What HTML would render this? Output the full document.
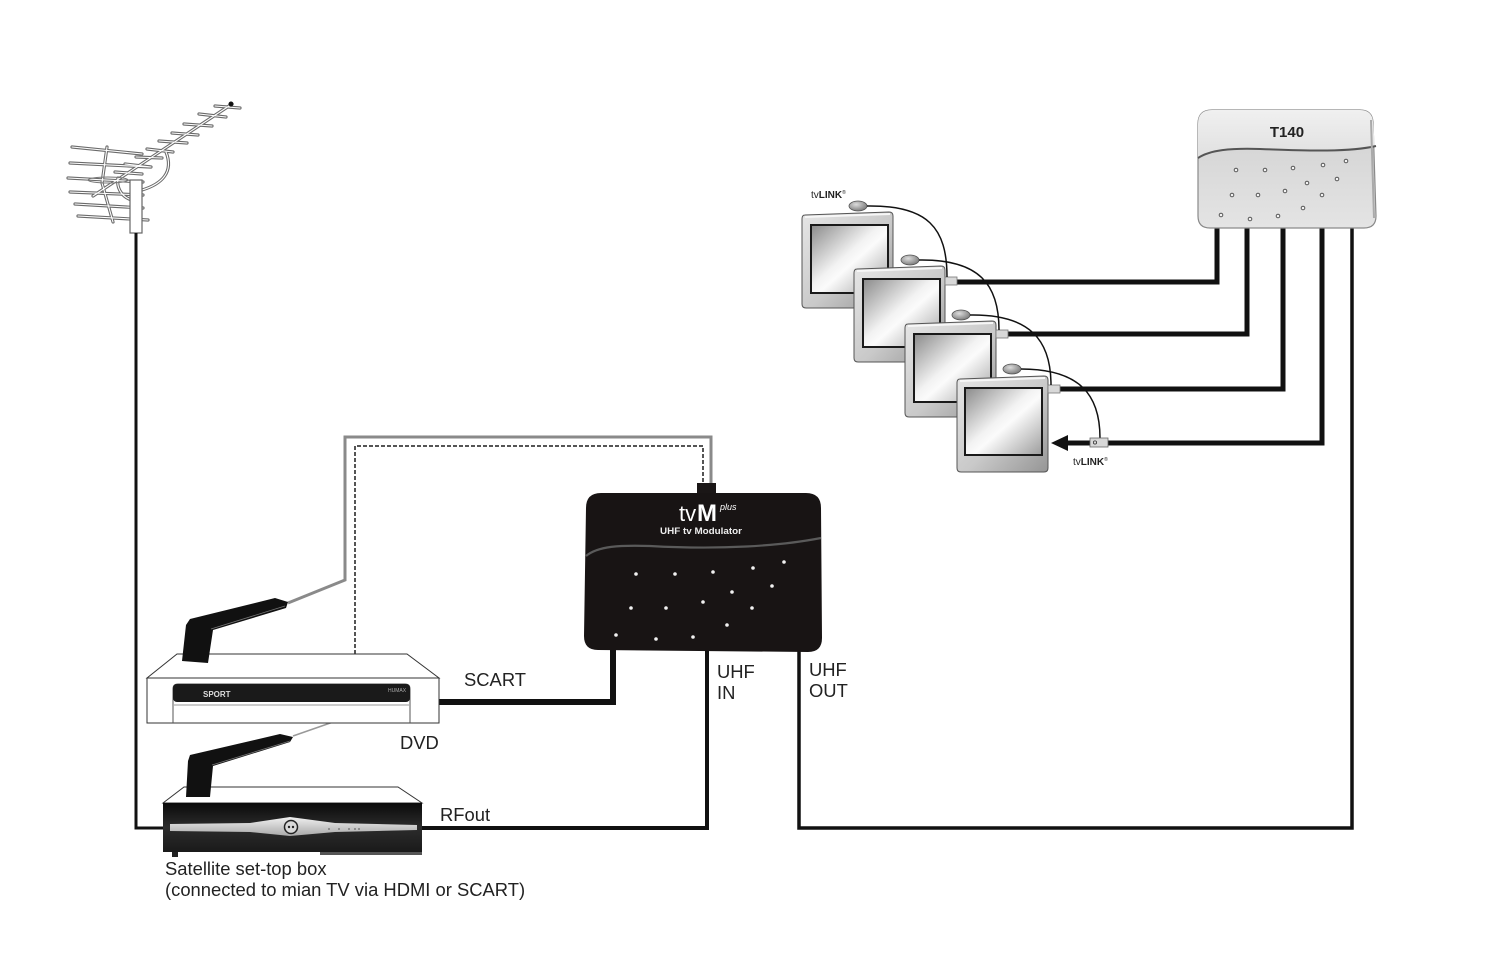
<!DOCTYPE html>
<html><head><meta charset="utf-8"><style>
html,body{margin:0;padding:0;background:#fff;}
svg{display:block;}
text{font-family:"Liberation Sans",Arial,sans-serif;}
</style></head><body>
<svg width="1500" height="953" viewBox="0 0 1500 953" xmlns="http://www.w3.org/2000/svg">
<defs>
 <linearGradient id="tvbody" x1="0" y1="0" x2="1" y2="1">
  <stop offset="0" stop-color="#e6e6e6"/><stop offset="0.55" stop-color="#c9c9c9"/><stop offset="1" stop-color="#959595"/>
 </linearGradient>
 <linearGradient id="screen" x1="0" y1="0" x2="1" y2="1">
  <stop offset="0" stop-color="#8a8a8a"/><stop offset="0.45" stop-color="#f2f2f2"/><stop offset="0.55" stop-color="#fbfbfb"/><stop offset="1" stop-color="#9c9c9c"/>
 </linearGradient>
 <radialGradient id="oval" cx="0.4" cy="0.35" r="0.7"><stop offset="0" stop-color="#dcdcdc"/><stop offset="1" stop-color="#767676"/></radialGradient>
 <linearGradient id="t140a" x1="0" y1="0" x2="0" y2="1"><stop offset="0" stop-color="#f0f0f0"/><stop offset="1" stop-color="#e0e0e0"/></linearGradient>
 <linearGradient id="t140b" x1="0" y1="0" x2="0" y2="1"><stop offset="0" stop-color="#d0d0d0"/><stop offset="1" stop-color="#e4e4e4"/></linearGradient>
 <linearGradient id="stb" x1="0" y1="0" x2="0" y2="1"><stop offset="0" stop-color="#0a0a0a"/><stop offset="0.5" stop-color="#2c2c2c"/><stop offset="1" stop-color="#1a1a1a"/></linearGradient>
 <linearGradient id="silver" x1="0" y1="0" x2="0" y2="1"><stop offset="0" stop-color="#f0f0f0"/><stop offset="1" stop-color="#a8a8a8"/></linearGradient>
 <g id="ant">
  <path d="M93,196 L232,104"/>
  <path d="M215,106 L240,108 M199,114 L226,117 M184,124 L212,126 M172,133 L198,135 M159,141 L187,143 M147,149 L173,152 M136,157 L162,158 M125,164 L151,167 M115,172 L142,174"/>
  <path d="M72,147 L142,154 M70,163 L150,167 M68,178 L143,182 M70,192 L143,195 M75,204 L143,208 M78,216 L148,220"/>
  <path d="M107,147 L102,183 L113,222"/>
  <path d="M166,152 C174,172 162,184 142,190"/>
  <path d="M118,178 C116,190 124,198 132,200"/>
 </g>
</defs>

<!-- Antenna -->
<g fill="none" stroke-linecap="round">
 <use href="#ant" stroke="#6a6a6a" stroke-width="3.2"/>
 <use href="#ant" stroke="#ffffff" stroke-width="1.1"/>
</g>
<ellipse cx="108" cy="180" rx="20" ry="3" fill="none" stroke="#777" stroke-width="1"/>
<circle cx="231" cy="104" r="2.5" fill="#111"/>
<rect x="130" y="180" width="12" height="53" fill="#fff" stroke="#666" stroke-width="1.2"/>

<!-- Connecting cables -->
<g fill="none" stroke="#111" stroke-linejoin="miter">
 <path d="M136,233 L136,828 L163,828" stroke-width="3"/>
 <path d="M421,828 L707,828 L707,650" stroke-width="4"/>
 <path d="M799,650 L799,828 L1352,828 L1352,228" stroke-width="3.5"/>
 <path d="M439,702 L613,702 L613,650" stroke-width="6"/>
 <path d="M1217,226 L1217,282 L957,282" stroke-width="5"/>
 <path d="M1247,226 L1247,334 L1008,334" stroke-width="5"/>
 <path d="M1283,226 L1283,389 L1060,389" stroke-width="5"/>
 <path d="M1322,226 L1322,443 L1108,443" stroke-width="5"/>
 <path d="M1090,443 L1064,443" stroke-width="5"/>
</g>
<polygon points="1051,443 1068,435 1068,451" fill="#111"/>

<!-- gray / dashed lines -->
<path d="M288,603 L345,580 L345,437 L711,437 L711,485" fill="none" stroke="#8a8a8a" stroke-width="3"/>
<path d="M355,654 L355,446 L703,446 L703,485" fill="none" stroke="#555" stroke-width="2" stroke-dasharray="4 2"/>
<path d="M293,736 L336,721" fill="none" stroke="#999" stroke-width="1.5"/>

<!-- T140 -->
<path d="M1212,110 L1360,110 Q1372,110 1373,122 L1376,216 Q1376,228 1364,228 L1210,228 Q1198,228 1198,216 L1198,124 Q1198,110 1212,110 Z" fill="url(#t140b)" stroke="#8a8a8a" stroke-width="1.2"/>
<path d="M1212,110 L1360,110 Q1372,110 1373,122 L1375,147 C1350,152 1310,151 1260,149 C1230,148 1210,150 1198,158 L1198,124 Q1198,110 1212,110 Z" fill="url(#t140a)" stroke="none"/>
<path d="M1198,158 C1210,150 1230,148 1260,149 C1310,151 1350,152 1376,146" fill="none" stroke="#555" stroke-width="2"/>
<path d="M1371,120 L1374,218" stroke="#aaa" stroke-width="2"/>
<text x="1287" y="137" font-size="15" font-weight="bold" text-anchor="middle" fill="#222">T140</text>
<g fill="#f4f4f4" stroke="#555" stroke-width="1">
 <circle cx="1236" cy="170" r="1.8"/><circle cx="1265" cy="170" r="1.8"/><circle cx="1293" cy="168" r="1.8"/><circle cx="1323" cy="165" r="1.8"/><circle cx="1346" cy="161" r="1.8"/>
 <circle cx="1307" cy="183" r="1.8"/><circle cx="1337" cy="179" r="1.8"/><circle cx="1232" cy="195" r="1.8"/><circle cx="1258" cy="195" r="1.8"/><circle cx="1285" cy="191" r="1.8"/>
 <circle cx="1322" cy="195" r="1.8"/><circle cx="1303" cy="208" r="1.8"/><circle cx="1221" cy="215" r="1.8"/><circle cx="1250" cy="219" r="1.8"/><circle cx="1278" cy="216" r="1.8"/>
</g>

<!-- TVs -->
<g transform="translate(802,212)">
 <path d="M3,3 L87,0 Q91,0 91,4 L91,92 Q91,96 87,96 L4,96 Q0,96 0,92 L0,7 Q0,3 3,3 Z" fill="url(#tvbody)" stroke="#555" stroke-width="1"/>
 <path d="M3,5 L88,2" stroke="#f7f7f7" stroke-width="2"/>
 <rect x="9" y="13" width="77" height="68" fill="url(#screen)" stroke="#1a1a1a" stroke-width="2"/>
 <ellipse cx="56" cy="-6" rx="9" ry="5" fill="url(#oval)" stroke="#555" stroke-width="0.8"/>
</g>
<g transform="translate(854,266)">
 <path d="M3,3 L87,0 Q91,0 91,4 L91,92 Q91,96 87,96 L4,96 Q0,96 0,92 L0,7 Q0,3 3,3 Z" fill="url(#tvbody)" stroke="#555" stroke-width="1"/>
 <path d="M3,5 L88,2" stroke="#f7f7f7" stroke-width="2"/>
 <rect x="9" y="13" width="77" height="68" fill="url(#screen)" stroke="#1a1a1a" stroke-width="2"/>
 <ellipse cx="56" cy="-6" rx="9" ry="5" fill="url(#oval)" stroke="#555" stroke-width="0.8"/>
 <rect x="91" y="11" width="12" height="8" fill="#d8d8d8" stroke="#777" stroke-width="0.8"/>
</g>
<g transform="translate(905,321)">
 <path d="M3,3 L87,0 Q91,0 91,4 L91,92 Q91,96 87,96 L4,96 Q0,96 0,92 L0,7 Q0,3 3,3 Z" fill="url(#tvbody)" stroke="#555" stroke-width="1"/>
 <path d="M3,5 L88,2" stroke="#f7f7f7" stroke-width="2"/>
 <rect x="9" y="13" width="77" height="68" fill="url(#screen)" stroke="#1a1a1a" stroke-width="2"/>
 <ellipse cx="56" cy="-6" rx="9" ry="5" fill="url(#oval)" stroke="#555" stroke-width="0.8"/>
 <rect x="91" y="9" width="12" height="8" fill="#d8d8d8" stroke="#777" stroke-width="0.8"/>
</g>
<g transform="translate(957,376)">
 <path d="M3,3 L87,0 Q91,0 91,4 L91,92 Q91,96 87,96 L4,96 Q0,96 0,92 L0,7 Q0,3 3,3 Z" fill="url(#tvbody)" stroke="#555" stroke-width="1"/>
 <path d="M3,5 L88,2" stroke="#f7f7f7" stroke-width="2"/>
 <rect x="8" y="12" width="77" height="67" fill="url(#screen)" stroke="#1a1a1a" stroke-width="2"/>
 <ellipse cx="55" cy="-7" rx="9" ry="5" fill="url(#oval)" stroke="#555" stroke-width="0.8"/>
 <rect x="91" y="9" width="12" height="8" fill="#d8d8d8" stroke="#777" stroke-width="0.8"/>
</g>
<!-- tvLINK thin cables -->
<g fill="none" stroke="#111" stroke-width="1.5">
 <path d="M867,206 C928,205 947,228 947,277"/>
 <path d="M919,260 C980,259 999,285 999,330"/>
 <path d="M970,315 C1030,314 1051,340 1051,385"/>
 <path d="M1021,369 C1080,369 1100,395 1100,438"/>
</g>
<rect x="1090" y="438" width="18" height="9" fill="#d8d8d8" stroke="#666" stroke-width="0.8"/>
<circle cx="1095" cy="442.5" r="1.6" fill="none" stroke="#333" stroke-width="0.8"/>
<text x="811" y="198" font-size="10" fill="#222">tv<tspan font-weight="bold">LINK</tspan><tspan font-size="5" dy="-4">®</tspan></text>
<text x="1073" y="465" font-size="10" fill="#222">tv<tspan font-weight="bold">LINK</tspan><tspan font-size="5" dy="-4">®</tspan></text>

<!-- tvM box -->
<rect x="697" y="483" width="19" height="11" fill="#1a1616"/>
<path d="M601,493 L806,493 Q821,493 821,508 L822,638 Q822,652 808,652 L598,650 Q584,650 584,636 L586,508 Q586,493 601,493 Z" fill="#181414"/>
<path d="M586,556 C598,546 620,545 650,546 C720,550 780,546 821,538" fill="none" stroke="#5a5a5a" stroke-width="2.2"/>
<text x="679" y="521" font-size="22" fill="#fff">tv</text>
<text x="697" y="521" font-size="24" font-weight="bold" fill="#fff">M</text>
<text x="720" y="510" font-size="9" font-style="italic" fill="#fff">plus</text>
<text x="660" y="534" font-size="9.5" font-weight="bold" textLength="82" lengthAdjust="spacingAndGlyphs" fill="#eee">UHF tv Modulator</text>
<g fill="#f2f2f2">
 <circle cx="636" cy="574" r="1.8"/><circle cx="675" cy="574" r="1.8"/><circle cx="713" cy="572" r="1.8"/><circle cx="753" cy="568" r="1.8"/><circle cx="784" cy="562" r="1.8"/>
 <circle cx="772" cy="586" r="1.8"/><circle cx="732" cy="592" r="1.8"/><circle cx="703" cy="602" r="1.8"/><circle cx="631" cy="608" r="1.8"/><circle cx="666" cy="608" r="1.8"/>
 <circle cx="752" cy="608" r="1.8"/><circle cx="727" cy="625" r="1.8"/><circle cx="616" cy="635" r="1.8"/><circle cx="656" cy="639" r="1.8"/><circle cx="693" cy="637" r="1.8"/>
</g>

<!-- DVD -->
<polygon points="147,678 177,654 407,654 439,678" fill="#fff" stroke="#333" stroke-width="1"/>
<rect x="147" y="678" width="292" height="45" fill="#fff" stroke="#333" stroke-width="1"/>
<path d="M173,723 L173,689 Q173,684 178,684 L405,684 Q410,684 410,689 L410,723" fill="none" stroke="#555" stroke-width="1"/>
<rect x="173" y="684" width="237" height="18" rx="4" fill="#1a1a1a"/>
<line x1="174" y1="705" x2="409" y2="705" stroke="#999" stroke-width="1"/>
<text x="203" y="697" font-size="8" font-weight="bold" fill="#ddd">SPORT</text>
<text x="388" y="692" font-size="5" fill="#aaa">HUMAX</text>
<!-- remote 1 -->
<polygon points="190,619 275,598 288,602 286,608 213,630 208,663 182,661 186,625" fill="#111"/>
<path d="M211,629 L285,606" stroke="#777" stroke-width="0.8"/>

<!-- STB -->
<polygon points="163,803 184,787 398,787 422,803" fill="#fff" stroke="#333" stroke-width="1"/>
<rect x="163" y="803" width="259" height="49" fill="url(#stb)"/>
<polygon points="170,824 250,823 290,817 335,823 417,825 417,830 335,832 290,836 250,832 170,831" fill="url(#silver)"/>
<circle cx="291" cy="827" r="6.5" fill="#d8d8d8" stroke="#222" stroke-width="1.5"/>
<circle cx="289" cy="827" r="1.2" fill="#222"/><circle cx="293" cy="827" r="1.2" fill="#222"/>
<g fill="#666"><circle cx="329" cy="829" r="0.9"/><circle cx="339" cy="829" r="0.9"/><circle cx="349" cy="829" r="0.9"/><circle cx="355" cy="829" r="0.9"/><circle cx="359" cy="829" r="0.9"/></g>
<rect x="172" y="852" width="6" height="5" fill="#222"/>
<rect x="320" y="852" width="102" height="3" fill="#555"/>
<!-- remote 2 -->
<polygon points="190,755 280,734 293,737 290,742 213,766 210,797 186,797 188,761" fill="#111"/>
<path d="M212,765 L290,741" stroke="#777" stroke-width="0.8"/>

<!-- Labels -->
<g font-size="18.4" fill="#222">
 <text x="464" y="686">SCART</text>
 <text x="400" y="749">DVD</text>
 <text x="440" y="821">RFout</text>
 <text x="717" y="678">UHF</text>
 <text x="717" y="699">IN</text>
 <text x="809" y="676">UHF</text>
 <text x="809" y="697">OUT</text>
 <text x="165" y="875">Satellite set-top box</text>
 <text x="165" y="896">(connected to mian TV via HDMI or SCART)</text>
</g>
</svg>
</body></html>
